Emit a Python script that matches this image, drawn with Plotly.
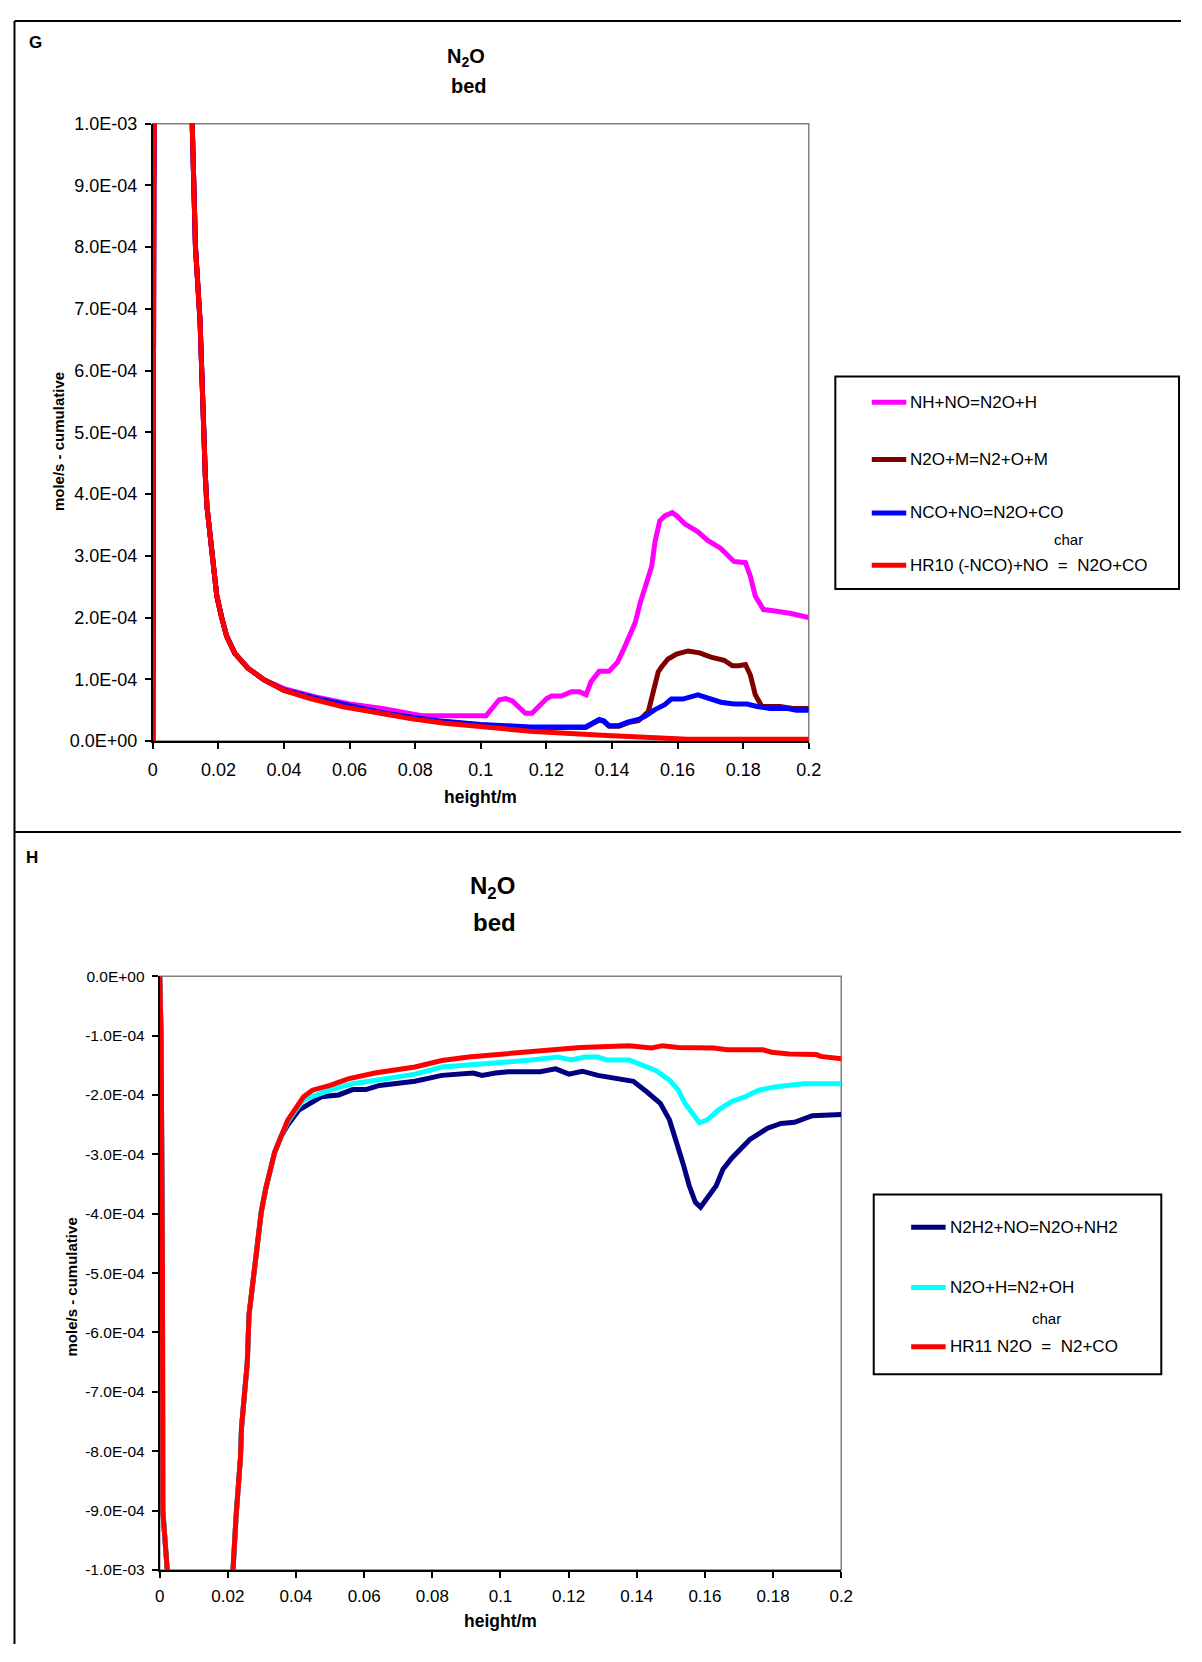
import plotly.graph_objects as go

# page keeps the default 8px body margin, so the figure is 16px smaller than the window
PAGE_W, PAGE_H = 1202, 1662
OFF = 8
W, H = PAGE_W - 2 * OFF, PAGE_H - 2 * OFF
FONT = "Liberation Sans, Arial, sans-serif"

# ---------------- panel G data (height/m, mole/s cumulative) ----------------
g_head_x = [0, 0.0003, 0.0008, 0.005, 0.011, 0.012, 0.0122, 0.013, 0.0144, 0.015, 0.0155,
            0.016, 0.0165, 0.0175, 0.0185, 0.0195, 0.021, 0.0225, 0.025, 0.029, 0.034]
g_head_y = [0, 9.0e-4, 1.2e-3, 3e-3, 3e-3, 1.0e-3, 9.6e-4, 8.0e-4, 6.8e-4, 5.7e-4, 4.9e-4,
            4.3e-4, 3.8e-4, 3.3e-4, 2.75e-4, 2.35e-4, 2.0e-4, 1.7e-4, 1.42e-4, 1.18e-4, 9.9e-5]

nh_x = [0.040, 0.05, 0.06, 0.07, 0.078, 0.082, 0.1016, 0.1056, 0.1076, 0.1096, 0.1136, 0.1156,
        0.1201, 0.1216, 0.1246, 0.1276, 0.1301, 0.1321, 0.1336, 0.1361, 0.1391, 0.1417, 0.1436,
        0.1456, 0.1471, 0.1486, 0.1506, 0.1521, 0.1532, 0.1546, 0.1562, 0.1584, 0.1597, 0.1622,
        0.1662, 0.1692, 0.1732, 0.1772, 0.1807, 0.1822, 0.1837, 0.1862, 0.1892, 0.1942, 0.2]
nh_y = [8.5e-5, 7.1e-5, 6.0e-5, 5.3e-5, 4.5e-5, 4.1e-5, 4.1e-5, 6.7e-5, 6.9e-5, 6.5e-5, 4.5e-5, 4.5e-5,
        6.9e-5, 7.3e-5, 7.3e-5, 8.0e-5, 8.0e-5, 7.5e-5, 9.6e-5, 1.13e-4, 1.13e-4, 1.28e-4, 1.49e-4,
        1.71e-4, 1.92e-4, 2.24e-4, 2.56e-4, 2.83e-4, 3.25e-4, 3.57e-4, 3.65e-4, 3.70e-4, 3.65e-4, 3.52e-4,
        3.39e-4, 3.25e-4, 3.12e-4, 2.91e-4, 2.89e-4, 2.67e-4, 2.35e-4, 2.13e-4, 2.11e-4, 2.07e-4, 2.0e-4]

n2o_m_x = [0.040, 0.05, 0.06, 0.07, 0.08, 0.087, 0.1, 0.115, 0.132, 0.1341, 0.1361, 0.1375,
           0.1391, 0.1421, 0.145, 0.1481, 0.1511, 0.1526, 0.1541, 0.1551, 0.1571, 0.1597, 0.1632,
           0.1667, 0.1702, 0.1742, 0.1767, 0.1787, 0.1807, 0.1822, 0.1837, 0.1857, 0.1912, 0.1952, 0.2]
n2o_m_y = [8.2e-5, 6.8e-5, 5.6e-5, 4.5e-5, 3.7e-5, 3.2e-5, 2.6e-5, 2.2e-5, 2.2e-5, 2.8e-5, 3.4e-5, 3.2e-5,
           2.4e-5, 2.4e-5, 3.0e-5, 3.3e-5, 4.8e-5, 8.0e-5, 1.12e-4, 1.2e-4, 1.33e-4, 1.41e-4, 1.46e-4,
           1.43e-4, 1.36e-4, 1.31e-4, 1.22e-4, 1.22e-4, 1.24e-4, 1.07e-4, 7.5e-5, 5.6e-5, 5.6e-5, 5.3e-5, 5.3e-5]

nco_x = [0.040, 0.05, 0.06, 0.07, 0.08, 0.087, 0.1, 0.115, 0.132, 0.1341, 0.1361, 0.1375,
         0.1391, 0.1421, 0.145, 0.1481, 0.1501, 0.1531, 0.1561, 0.1581, 0.1616, 0.1662, 0.1702,
         0.1732, 0.1772, 0.1812, 0.1842, 0.1882, 0.1932, 0.1962, 0.2]
nco_y = [8.3e-5, 6.9e-5, 5.7e-5, 4.6e-5, 3.8e-5, 3.3e-5, 2.7e-5, 2.3e-5, 2.3e-5, 2.9e-5, 3.5e-5, 3.3e-5,
         2.5e-5, 2.5e-5, 3.1e-5, 3.5e-5, 4.0e-5, 5.1e-5, 5.9e-5, 6.8e-5, 6.8e-5, 7.5e-5, 6.9e-5,
         6.3e-5, 6.0e-5, 6.0e-5, 5.6e-5, 5.3e-5, 5.3e-5, 5.0e-5, 5.0e-5]

hr10_x = [0.040, 0.048, 0.058, 0.069, 0.079, 0.089, 0.1, 0.115, 0.137, 0.151, 0.163, 0.2]
hr10_y = [8.2e-5, 6.9e-5, 5.55e-5, 4.55e-5, 3.6e-5, 2.9e-5, 2.3e-5, 1.6e-5, 9.6e-6, 6.4e-6, 3e-6, 3e-6]

# ---------------- panel H data ----------------
h_head_x = [0, 0.0004, 0.0008, 0.0009, 0.0022, 0.004, 0.02, 0.0215, 0.0224, 0.0232, 0.0237, 0.024,
            0.0249, 0.0257, 0.0262, 0.027, 0.0287, 0.0298, 0.0311, 0.0324, 0.0337, 0.0356]
h_head_y = [0, -1.0e-4, -5.0e-4, -9.0e-4, -1.0e-3, -3e-3, -3e-3, -1.0e-3, -9.1e-4, -8.6e-4, -8.1e-4, -7.6e-4,
            -7.1e-4, -6.5e-4, -5.7e-4, -5.3e-4, -4.5e-4, -3.97e-4, -3.58e-4, -3.25e-4, -2.97e-4, -2.70e-4]

n2h2_x = [0.0376, 0.0409, 0.0448, 0.0474, 0.0525, 0.0566, 0.0605, 0.0645, 0.0749, 0.0828, 0.092, 0.0946,
          0.0985, 0.1024, 0.1116, 0.1162, 0.1201, 0.124, 0.1286, 0.1338, 0.139, 0.143, 0.1469, 0.1496,
          0.1515, 0.1535, 0.1554, 0.1572, 0.1587, 0.1613, 0.1633, 0.1653, 0.1679, 0.1732, 0.1784, 0.1823,
          0.1863, 0.1915, 0.2]
n2h2_y = [-2.5e-4, -2.25e-4, -2.11e-4, -2.03e-4, -2.0e-4, -1.91e-4, -1.91e-4, -1.84e-4, -1.77e-4, -1.67e-4,
          -1.63e-4, -1.67e-4, -1.63e-4, -1.61e-4, -1.61e-4, -1.56e-4, -1.65e-4, -1.60e-4, -1.67e-4, -1.73e-4,
          -1.77e-4, -1.95e-4, -2.14e-4, -2.42e-4, -2.75e-4, -3.14e-4, -3.53e-4, -3.81e-4, -3.89e-4, -3.69e-4,
          -3.53e-4, -3.25e-4, -3.06e-4, -2.75e-4, -2.56e-4, -2.48e-4, -2.46e-4, -2.35e-4, -2.33e-4]

n2o_h_x = [0.0376, 0.0396, 0.0422, 0.05, 0.0566, 0.0658, 0.0749, 0.0828, 0.092, 0.1011, 0.109, 0.1168,
           0.1207, 0.1247, 0.1285, 0.1312, 0.1378, 0.1418, 0.1457, 0.1496, 0.1522, 0.1541, 0.1568, 0.1584,
           0.1607, 0.164, 0.1679, 0.1718, 0.1758, 0.181, 0.1889, 0.2]
n2o_h_y = [-2.45e-4, -2.28e-4, -2.08e-4, -1.92e-4, -1.81e-4, -1.73e-4, -1.65e-4, -1.53e-4, -1.48e-4, -1.45e-4,
           -1.41e-4, -1.36e-4, -1.41e-4, -1.36e-4, -1.36e-4, -1.41e-4, -1.41e-4, -1.50e-4, -1.59e-4, -1.75e-4,
           -1.92e-4, -2.14e-4, -2.36e-4, -2.47e-4, -2.42e-4, -2.25e-4, -2.11e-4, -2.03e-4, -1.92e-4, -1.86e-4,
           -1.81e-4, -1.81e-4]

hr11_x = [0.0376, 0.0396, 0.0422, 0.0448, 0.05, 0.0553, 0.0631, 0.0749, 0.0828, 0.0906, 0.1011, 0.1155,
          0.1234, 0.1378, 0.1443, 0.1476, 0.1521, 0.1626, 0.1665, 0.177, 0.1796, 0.1848, 0.1927, 0.194, 0.2]
hr11_y = [-2.42e-4, -2.25e-4, -2.03e-4, -1.92e-4, -1.84e-4, -1.73e-4, -1.63e-4, -1.53e-4, -1.42e-4, -1.36e-4,
          -1.31e-4, -1.23e-4, -1.20e-4, -1.17e-4, -1.21e-4, -1.17e-4, -1.20e-4, -1.21e-4, -1.24e-4, -1.24e-4,
          -1.28e-4, -1.31e-4, -1.32e-4, -1.35e-4, -1.39e-4]

x_ticks = [0, 0.02, 0.04, 0.06, 0.08, 0.1, 0.12, 0.14, 0.16, 0.18, 0.2]
x_ticktext = ["0", "0.02", "0.04", "0.06", "0.08", "0.1", "0.12", "0.14", "0.16", "0.18", "0.2"]
g_yticks = [i * 1e-4 for i in range(11)]
g_yticktext = ["0.0E+00"] + ["%d.0E-04" % i for i in range(1, 10)] + ["1.0E-03"]
h_yticks = [-i * 1e-4 for i in range(11)]
h_yticktext = ["0.0E+00"] + ["-%d.0E-04" % i for i in range(1, 10)] + ["-1.0E-03"]

NB = "\u00a0"  # keep the double spaces of the legend labels
g_series = [
    ("NH+NO=N2O+H", nh_x, nh_y, "#ff00ff"),
    ("N2O+M=N2+O+M", n2o_m_x, n2o_m_y, "#800000"),
    ("NCO+NO=N2O+CO", nco_x, nco_y, "#0000ff"),
    ("HR10 (-NCO)+NO" + NB * 2 + "=" + NB * 2 + "N2O+CO", hr10_x, hr10_y, "#ff0000"),
]
h_series = [
    ("N2H2+NO=N2O+NH2", n2h2_x, n2h2_y, "#000080"),
    ("N2O+H=N2+OH", n2o_h_x, n2o_h_y, "#00ffff"),
    ("HR11 N2O" + NB * 2 + "=" + NB * 2 + "N2+CO", hr11_x, hr11_y, "#ff0000"),
]


# page pixel -> paper fraction
def px(x):
    return (x - OFF) / W


def py(y):
    return 1 - (y - OFF) / H


fig = go.Figure()

for name, xs, ys, col in g_series:
    fig.add_trace(go.Scatter(x=g_head_x + xs, y=g_head_y + ys, mode="lines", name=name,
                             line=dict(color=col, width=5), xaxis="x", yaxis="y", showlegend=False))
for name, xs, ys, col in h_series:
    fig.add_trace(go.Scatter(x=h_head_x + xs, y=h_head_y + ys, mode="lines", name=name,
                             line=dict(color=col, width=5), xaxis="x2", yaxis="y2", showlegend=False))

axis_common = dict(showgrid=False, zeroline=False, showline=True, linecolor="black", linewidth=2,
                   ticks="outside", ticklen=6, tickwidth=2, tickcolor="black", mirror=False)

fig.update_layout(
    width=W, height=H, margin=dict(l=0, r=0, t=0, b=0),
    paper_bgcolor="white", plot_bgcolor="white",
    font=dict(family=FONT, color="black"),
    xaxis=dict(domain=[px(150), px(816)], range=[0, 0.2], anchor="y", tickvals=x_ticks,
               ticktext=x_ticktext, tickfont=dict(size=18), ticklabelstandoff=5, **axis_common),
    yaxis=dict(domain=[py(740), py(115)], range=[0, 1e-3], anchor="x", tickvals=g_yticks,
               ticktext=g_yticktext, tickfont=dict(size=18), ticklabelstandoff=4, **axis_common),
    xaxis2=dict(domain=[px(157), px(849)], range=[0, 0.2], anchor="y2", tickvals=x_ticks,
                ticktext=x_ticktext, tickfont=dict(size=17), ticklabelstandoff=4, **axis_common),
    yaxis2=dict(domain=[py(1579), py(978)], range=[-1e-3, 0], anchor="x2", tickvals=h_yticks,
                ticktext=h_yticktext, tickfont=dict(size=15.5), ticklabelstandoff=4, **axis_common),
)

shapes = []
# plot area borders (grey top/right)
for xr, yr in (("x", "y"), ("x2", "y2")):
    shapes.append(dict(type="rect", xref=xr + " domain", yref=yr + " domain", x0=0, x1=1, y0=0, y1=1,
                       line=dict(color="#808080", width=1.5), layer="below"))
# outer frame
shapes.append(dict(type="line", xref="paper", yref="paper", x0=px(9.5), x1=px(9.5), y0=py(11), y1=0,
                   line=dict(color="black", width=2)))
shapes.append(dict(type="line", xref="paper", yref="paper", x0=px(9.5), x1=1, y0=py(11), y1=py(11),
                   line=dict(color="black", width=2)))
shapes.append(dict(type="line", xref="paper", yref="paper", x0=px(9.5), x1=1, y0=py(832), y1=py(832),
                   line=dict(color="black", width=2)))

annotations = []


def text(x, y, s, size, bold=False, angle=0, xanchor="center"):
    annotations.append(dict(xref="paper", yref="paper", x=px(x), y=py(y), text=("<b>%s</b>" % s) if bold else s,
                            showarrow=False, xanchor=xanchor, yanchor="middle", textangle=angle,
                            font=dict(size=size, family=FONT, color="black")))


# panel G texts
text(31, 33, "G", 17, bold=True)
text(468, 48, "N<sub>2</sub>O", 20, bold=True)
text(471, 77, "bed", 20, bold=True)
text(483, 797, "height/m", 17.5, bold=True)
text(54, 437, "mole/s - cumulative", 15, bold=True, angle=-90)

# panel H texts
text(27, 858, "H", 17, bold=True)
text(495, 888, "N<sub>2</sub>O", 24, bold=True)
text(497, 924, "bed", 24, bold=True)
text(503, 1631, "height/m", 17.5, bold=True)
text(67, 1293, "mole/s - cumulative", 15, bold=True, angle=-90)


def legend(box, rows, sample_x, char_pos):
    x0, y0, x1, y1 = box
    shapes.append(dict(type="rect", xref="paper", yref="paper", x0=px(x0), x1=px(x1), y0=py(y1), y1=py(y0),
                       line=dict(color="black", width=2), fillcolor="white"))
    for (name, col), yy in rows:
        shapes.append(dict(type="line", xref="paper", yref="paper", x0=px(sample_x[0]), x1=px(sample_x[1]),
                           y0=py(yy), y1=py(yy), line=dict(color=col, width=5)))
        text(sample_x[1] + 2, yy, name, 17, xanchor="left")
    text(char_pos[0], char_pos[1], "char", 15)


legend((843, 371, 1192, 586),
       list(zip([(s[0], s[3]) for s in g_series], [397, 455, 509, 562])),
       (880, 915), (1080, 536))
legend((882, 1199, 1174, 1381),
       list(zip([(s[0], s[3]) for s in h_series], [1232, 1293, 1353])),
       (920, 955), (1057, 1325))

fig.update_layout(shapes=shapes, annotations=annotations)
fig.write_html("out.html", config={"displayModeBar": False})
